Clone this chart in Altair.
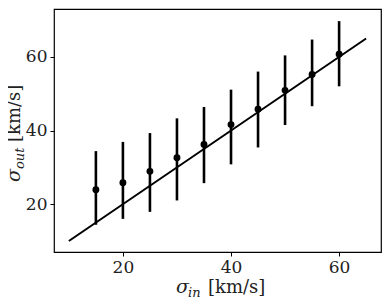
import altair as alt
import pandas as pd

# data
sigma_in = [15, 20, 25, 30, 35, 40, 45, 50, 55, 60]
sigma_out = [23.9, 25.8, 28.9, 32.6, 36.2, 41.6, 45.8, 50.9, 55.2, 60.7]
err_low = [14.4, 16.0, 17.9, 21.0, 25.7, 30.8, 35.4, 41.5, 46.6, 52.0]
err_high = [34.4, 36.9, 39.3, 43.3, 46.4, 51.1, 56.0, 60.4, 64.7, 69.7]
line_x = [10, 65]
line_y = [10, 65]
x_ticks = [20, 40, 60]
y_ticks = [20, 40, 60]

FONT = "DejaVu Serif"
W, H = 327, 243

pts = pd.DataFrame({"x": sigma_in, "y": sigma_out, "lo": err_low, "hi": err_high})
ln = pd.DataFrame({"x": line_x, "y": line_y})

xs = alt.Scale(domain=[7.25, 67.75], nice=False, zero=False)
ys = alt.Scale(domain=[7.0, 73.0], nice=False, zero=False)

axis_common = dict(grid=False, tickSize=4, tickColor="black", tickWidth=1,
                   labelFont=FONT, labelFontSize=17, labelColor="#222222",
                   domain=False, labelPadding=3, title=None)
xaxis = alt.Axis(values=x_ticks, **axis_common)
yaxis = alt.Axis(values=y_ticks, **axis_common)

base_x = alt.X("x:Q", scale=xs, axis=xaxis)
base_y = alt.Y("y:Q", scale=ys, axis=yaxis)

line = alt.Chart(ln).mark_line(color="black", strokeWidth=2).encode(x=base_x, y=base_y)
bars = alt.Chart(pts).mark_rule(color="black", strokeWidth=2.6).encode(
    x=alt.X("x:Q", scale=xs, axis=xaxis),
    y=alt.Y("lo:Q", scale=ys, axis=yaxis),
    y2="hi:Q",
)
dots = alt.Chart(pts).mark_circle(color="black", opacity=1, size=48).encode(x=base_x, y=base_y)

def txt(s, x, y, size, italic=False, angle=0):
    kw = dict(text=s, font=FONT, fontSize=size, color="#222222", align="left",
              baseline="alphabetic")
    if italic:
        kw["fontStyle"] = "italic"
    if angle:
        kw["angle"] = angle
    return alt.Chart(ln).transform_filter("datum.x == 10").mark_text(**kw).encode(
        x=alt.value(x), y=alt.value(y))

titles = [
    txt("σ", 122, 284, 19, italic=True),
    txt("in", 134, 288, 13, italic=True),
    txt("[km/s]", 154, 284, 18),
    txt("σ", -34, 173, 19, italic=True, angle=270),
    txt("out", -30, 160, 13, italic=True, angle=270),
    txt("[km/s]", -34, 133, 18, angle=270),
]

chart = alt.layer(line, bars, dots, *titles).properties(
    width=W, height=H,
    autosize=alt.AutoSizeParams(type="none"),
    padding={"left": 46, "top": 1, "right": 1, "bottom": 47},
).configure_view(stroke="black", strokeWidth=1.2)

chart.save("out.html", embed_options={"renderer": "svg", "actions": False})
